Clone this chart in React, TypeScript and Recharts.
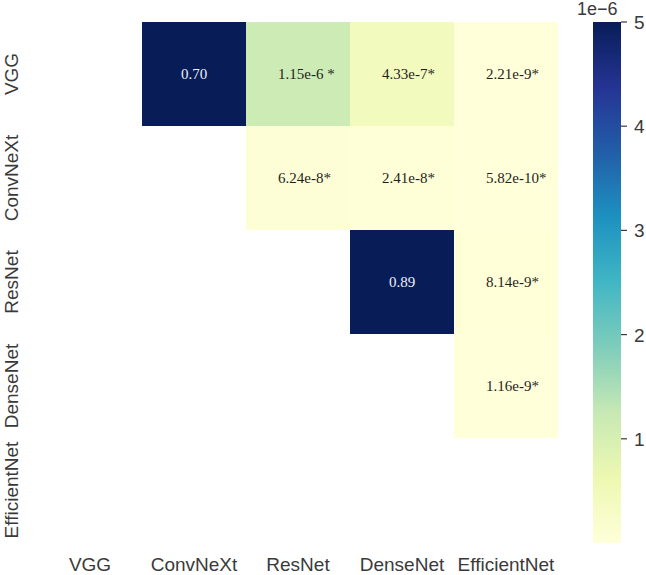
import { Bar, BarChart, Cell, LabelList, XAxis, YAxis } from 'recharts'

const models = ['VGG', 'ConvNeXt', 'ResNet', 'DenseNet', 'EfficientNet']

// upper triangle of pairwise p-values (row vs column), null = not drawn
const pValues: (number | null)[][] = [
  [null, 0.7, 1.15e-6, 4.33e-7, 2.21e-9],
  [null, null, 6.24e-8, 2.41e-8, 5.82e-10],
  [null, null, null, 0.89, 8.14e-9],
  [null, null, null, null, 1.16e-9],
  [null, null, null, null, null],
]

const pLabels: string[][] = [
  ['', '0.70', '1.15e-6 *', '4.33e-7*', '2.21e-9*'],
  ['', '', '6.24e-8*', '2.41e-8*', '5.82e-10*'],
  ['', '', '', '0.89', '8.14e-9*'],
  ['', '', '', '', '1.16e-9*'],
  ['', '', '', '', ''],
]

const colorbarTicks = [1, 2, 3, 4, 5]
const colorbarMax = 5e-6

const ylgnbu = ['#ffffd9', '#edf8b1', '#c7e9b4', '#7fcdbb', '#41b6c4', '#1d91c0', '#225ea8', '#253494', '#081d58']

function hexToRgb(hex: string) {
  const n = parseInt(hex.slice(1), 16)
  return [(n >> 16) & 255, (n >> 8) & 255, n & 255]
}

function colorFor(value: number) {
  const t = Math.max(0, Math.min(1, value / colorbarMax)) * (ylgnbu.length - 1)
  const i = Math.min(Math.floor(t), ylgnbu.length - 2)
  const f = t - i
  const a = hexToRgb(ylgnbu[i])
  const b = hexToRgb(ylgnbu[i + 1])
  const c = a.map((v, k) => Math.round(v + (b[k] - v) * f))
  return `rgb(${c[0]},${c[1]},${c[2]})`
}

const rows = models.map((name, r) => {
  const row: Record<string, string | number | null> = { name }
  models.forEach((_, c) => {
    row[`c${c}`] = 1
    row[`t${c}`] = pLabels[r][c]
  })
  return row
})

const colorbarData = [{ name: 'cb', v: 5 }]

const sans = '"Liberation Sans", Arial, sans-serif'
const serif = '"Liberation Serif", "Times New Roman", serif'
const labelGray = '#3a3a3a'

function XTick(props: any) {
  const { x, y, payload } = props
  return (
    <text x={x} y={y + 29} textAnchor="middle" fontFamily={sans} fontSize={19} fill={labelGray}>
      {models[Math.floor(payload.value)]}
    </text>
  )
}

function YTick(props: any) {
  const { y, payload } = props
  return (
    <text
      x={18}
      y={y}
      transform={`rotate(-90 18 ${y})`}
      textAnchor="middle"
      fontFamily={sans}
      fontSize={19}
      fill={labelGray}
    >
      {payload.value}
    </text>
  )
}

function ColorbarTick(props: any) {
  const { x, y, payload } = props
  return (
    <g>
      <line x1={x} x2={x + 6} y1={y} y2={y} stroke={labelGray} strokeWidth={1.2} />
      <text x={x + 13} y={y} dy={7} fontFamily={sans} fontSize={19} fill={labelGray}>
        {payload.value}
      </text>
    </g>
  )
}

function cellLabel(col: number) {
  return (props: any) => {
    const { x, y, width, height, index } = props
    const label = pLabels[index][col]
    if (!label) return null
    const v = pValues[index][col] ?? 0
    const dark = v / colorbarMax > 0.6
    const starred = label.includes('*')
    return (
      <text
        x={starred ? x + 32 : x + width / 2}
        y={y + height / 2}
        dy={5}
        textAnchor={starred ? 'start' : 'middle'}
        fontFamily={serif}
        fontSize={15}
        fill={dark ? '#eef0f6' : '#1f1f1f'}
      >
        {label}
      </text>
    )
  }
}

export default function App() {
  return (
    <div style={{ position: 'absolute', left: 0, top: 0, width: 646, height: 575, background: '#fff' }}>
      <div style={{ position: 'absolute', left: 0, top: 0 }}>
        <BarChart
          width={558}
          height={575}
          data={rows}
          layout="vertical"
          barCategoryGap={0}
          margin={{ top: 22, right: 0, bottom: 0, left: 0 }}
        >
          <XAxis
            type="number"
            domain={[0, models.length]}
            ticks={models.map((_, i) => i + 0.5)}
            height={33}
            axisLine={false}
            tickLine={false}
            tickSize={0}
            tickMargin={0}
            tick={<XTick />}
            interval={0}
          />
          <YAxis
            type="category"
            dataKey="name"
            width={38}
            axisLine={false}
            tickLine={false}
            tickSize={0}
            tickMargin={0}
            tick={<YTick />}
            interval={0}
          />
          {models.map((_, c) => (
            <Bar key={c} dataKey={`c${c}`} stackId="grid" isAnimationActive={false}>
              {rows.map((_, r) => {
                const v = pValues[r][c]
                return <Cell key={r} fill={v === null ? 'transparent' : colorFor(v)} />
              })}
              <LabelList dataKey={`t${c}`} content={cellLabel(c)} />
            </Bar>
          ))}
        </BarChart>
      </div>

      <div style={{ position: 'absolute', left: 560, top: 0 }}>
        <BarChart
          width={86}
          height={575}
          data={colorbarData}
          barCategoryGap={0}
          margin={{ top: 22, right: 0, bottom: 32, left: 33 }}
        >
          <defs>
            <linearGradient id="ylgnbu" x1="0" y1="1" x2="0" y2="0">
              {ylgnbu.map((c, i) => (
                <stop key={c} offset={`${(i / (ylgnbu.length - 1)) * 100}%`} stopColor={c} />
              ))}
            </linearGradient>
          </defs>
          <XAxis dataKey="name" hide />
          <YAxis
            orientation="right"
            domain={[0, 5]}
            ticks={colorbarTicks}
            width={25}
            axisLine={false}
            tickLine={false}
            tickSize={0}
            tickMargin={0}
            tick={<ColorbarTick />}
            interval={0}
          />
          <Bar dataKey="v" fill="url(#ylgnbu)" isAnimationActive={false} />
        </BarChart>
      </div>

      <div
        style={{
          position: 'absolute',
          left: 577,
          top: 0,
          fontFamily: sans,
          fontSize: 18,
          lineHeight: '18px',
          color: labelGray,
        }}
      >
        1e−6
      </div>
    </div>
  )
}
